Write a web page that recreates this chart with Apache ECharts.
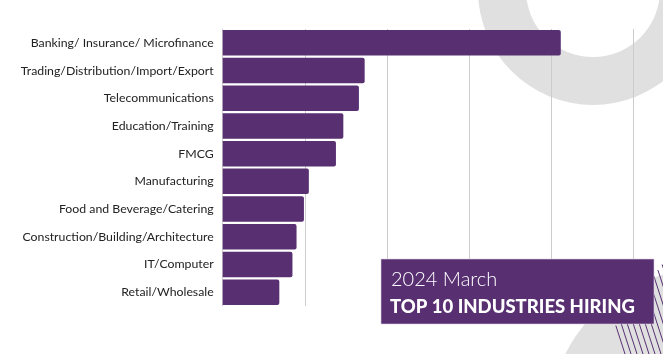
<!DOCTYPE html>
<html>
    <head>
        <meta charset="UTF-8">
        <title>Top 10 Industries Hiring - 2024 March</title>
        <script src="https://cdn.jsdelivr.net/npm/echarts@6.0.0/dist/echarts.min.js"></script>
        <style>
            html, body {
                margin: 0;
                padding: 0;
                background: #ffffff;
            }

            #chart {
                width: 663px;
                height: 354px;
            }
        </style>
    </head>
    <body>
        <div id="chart"></div>
        <script>
            const industries = [
                'Banking/ Insurance/ Microfinance',
                'Trading/Distribution/Import/Export',
                'Telecommunications',
                'Education/Training',
                'FMCG',
                'Manufacturing',
                'Food and Beverage/Catering',
                'Construction/Building/Architecture',
                'IT/Computer',
                'Retail/Wholesale'
            ];
            const hires = [412, 173, 166, 147, 138, 105, 99, 90, 85, 69];

            const titleLine1 = '2024 March';
            const titleLine2 = 'TOP 10 INDUSTRIES HIRING';

            const purple = '#583072';

            // hatching in the bottom right corner: steep "\" strokes cut by a "/" edge
            function hatchLines() {
                const lines = [];
                for ( let i = 0; i < 12; i++ ) {
                    const xb = 625 + 6 * i;             // where the stroke meets the bottom
                    const yTop = ( 976.7 - xb ) / 1.0802; // where it meets the edge
                    const xTop = xb - ( 354 - yTop ) * 10 / 31;
                    lines.push({
                        type: 'line',
                        silent: true,
                        z: 1,
                        shape: { x1: xTop, y1: yTop, x2: xb, y2: 354 },
                        style: { stroke: purple, lineWidth: 1 }
                    });
                }
                return lines;
            }

            const chart = echarts.init( document.getElementById('chart') );

            chart.setOption({
                animation: false,
                grid: {
                    left: 222.7,
                    right: 30,
                    top: 29,
                    bottom: 48,
                    containLabel: false
                },
                xAxis: {
                    type: 'value',
                    min: 0,
                    max: 500,
                    interval: 100,
                    axisLabel: { show: false },
                    axisLine: { show: false },
                    axisTick: { show: false },
                    splitLine: {
                        lineStyle: { color: '#cccccc', width: 1 }
                    }
                },
                yAxis: {
                    type: 'category',
                    inverse: true,
                    data: industries,
                    axisTick: { show: false },
                    axisLine: {
                        lineStyle: { color: '#d0d0d0', width: 1 }
                    },
                    axisLabel: {
                        color: '#222222',
                        fontFamily: 'Lato',
                        fontSize: 12.3,
                        margin: 9
                    }
                },
                series: [
                    {
                        type: 'bar',
                        data: hires,
                        barCategoryGap: '8%',
                        z: 3,
                        itemStyle: {
                            color: purple,
                            borderRadius: [0, 2, 2, 0]
                        }
                    }
                ],
                graphic: [
                    {
                        type: 'ring',
                        silent: true,
                        z: 0,
                        shape: { cx: 593, cy: -10, r: 115, r0: 67 },
                        style: { fill: '#e0e0e0' }
                    },
                    {
                        type: 'circle',
                        silent: true,
                        z: 0,
                        shape: { cx: 700, cy: 420, r: 150 },
                        style: { fill: '#e0e0e0' }
                    },
                    ...hatchLines(),
                    {
                        type: 'rect',
                        silent: true,
                        z: 10,
                        shape: { x: 381, y: 259, width: 273, height: 65 },
                        style: { fill: purple, stroke: '#d8cde0', lineWidth: 0.6 }
                    },
                    {
                        type: 'text',
                        silent: true,
                        z: 11,
                        x: 391,
                        y: 280,
                        style: {
                            text: titleLine1,
                            fill: '#ffffff',
                            font: '300 20px Lato',
                            verticalAlign: 'middle'
                        }
                    },
                    {
                        type: 'text',
                        silent: true,
                        z: 11,
                        x: 390,
                        y: 307,
                        style: {
                            text: titleLine2,
                            fill: '#ffffff',
                            font: '900 18.5px Lato',
                            verticalAlign: 'middle'
                        }
                    }
                ]
            });
        </script>
    </body>
</html>
